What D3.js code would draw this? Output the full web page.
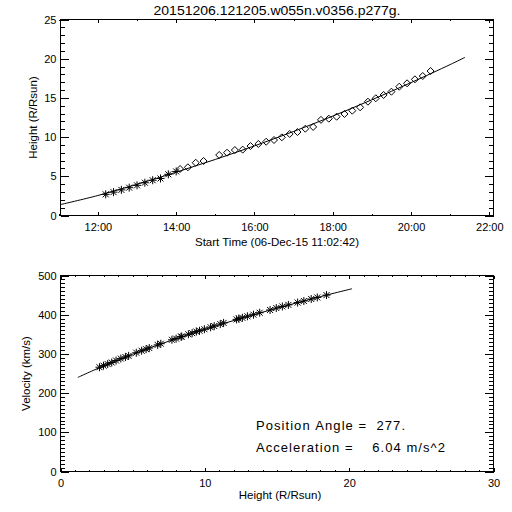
<!DOCTYPE html>
<html><head><meta charset="utf-8">
<script src="https://cdn.jsdelivr.net/npm/d3@7"></script>
<style>
html,body{margin:0;padding:0;background:#fff;}
svg text{font-family:"Liberation Sans",Arial,sans-serif;fill:#000;}
</style></head>
<body>
<svg id="c" width="512" height="512"></svg>
<script>
// ---------- data ----------
const titleText = "20151206.121205.w055n.v0356.p277g.";
const startTime = "11:02:42";
const xTitleTop = "Start Time (06-Dec-15 11:02:42)";
const yTitleTop = "Height (R/Rsun)";
const xTitleBottom = "Height (R/Rsun)";
const yTitleBottom = "Velocity (km/s)";
const annotPA = "Position Angle =  277.";
const annotAcc = "Acceleration =    6.04 m/s^2";

// C2 points (asterisks)
const starTimes = ["12:12","12:24","12:36","12:48","13:00","13:12","13:24","13:36","13:48","14:00"];
const starHeights = [2.70,2.98,3.27,3.55,3.85,4.18,4.50,4.72,5.25,5.62];
// C3 points (diamonds)
const diamondTimes = ["14:06","14:18","14:30","14:42","15:06","15:18","15:30","15:42","15:54","16:06",
  "16:18","16:30","16:42","16:54","17:06","17:18","17:30","17:42","17:54","18:06","18:18","18:30",
  "18:42","18:54","19:06","19:18","19:30","19:42","19:54","20:06","20:18","20:30"];
const diamondHeights = [5.93,6.15,6.73,6.95,7.72,8.01,8.35,8.40,8.86,9.12,
  9.41,9.63,9.97,10.40,10.65,11.07,11.30,12.20,12.35,12.60,12.95,13.37,
  13.80,14.52,14.95,15.37,15.79,16.43,16.86,17.37,17.79,18.43];
// fitted height-time curve
const fitTimes = [11.05,12,13,14,15,16,17,18,19,20,21,21.38];
const fitHeights = [1.40,2.55,3.98,5.52,7.15,8.88,10.72,12.68,14.76,16.95,19.25,20.17];

// velocity panel
const velHeights = [2.70,2.98,3.27,3.55,3.85,4.18,4.50,4.72,5.25,5.62,
  5.93,6.15,6.73,6.95,7.72,8.01,8.35,8.40,8.86,9.12,9.41,9.63,9.97,10.40,10.65,11.07,11.30,
  12.20,12.35,12.60,12.95,13.37,13.80,14.52,14.95,15.37,15.79,16.43,16.86,17.37,17.79,18.43];
const velValues = [266,270,274,278,283,288,292,295,303,308,
  312,315,323,326,336,339,344,344,350,353,357,359,363,368,371,376,379,
  388,390,392,396,400,405,412,417,421,425,431,435,440,444,450];
const velFitHeights = [1.2,3,5,7,9,11,13,15,17,19,20.2];
const velFitValues = [240,269.7,299.2,326.1,351.0,374.2,396.0,416.7,436.4,455.3,466.2];

// axes
const timeTicks = [12,14,16,18,20,22];
const timeMinor = [11,13,15,17,19,21];
const hTicks = [0,5,10,15,20,25];
const vTicks = [0,100,200,300,400,500];
const xhTicks = [0,10,20,30];

// ---------- helpers ----------
const toHours = s => { const p = s.split(":").map(Number); return p[0] + p[1]/60 + (p[2]||0)/3600; };
const fmtTime = h => String(Math.floor(h)).padStart(2,"0") + ":00";
const keepSpaces = s => s.replace(/ /g, "\u00a0");

const svg = d3.select("#c");
const L = 60.5, R = 493.5;
const top1 = 19.5, bot1 = 215.5, top2 = 275.5, bot2 = 471.5;

const t0 = toHours(startTime);
const xT = d3.scaleLinear().domain([t0, t0 + (R-L)/39.14]).range([L,R]);
const yH = d3.scaleLinear().domain([0,25]).range([bot1, top1]);
const xH = d3.scaleLinear().domain([0,30]).range([L,R]);
const yV = d3.scaleLinear().domain([0,500]).range([bot2, top2]);

function styleAxis(g, size){
  g.select(".domain").remove();
  g.selectAll("line").attr("stroke","#000").attr("shape-rendering","crispEdges");
  g.selectAll("text").attr("font-size", size).attr("font-family",'"Liberation Sans",Arial,sans-serif').attr("fill","#000");
}

function panel(x, y, top, bot, xMajor, xMinor, xFmt, yMajor, yMinor, xPad){
  svg.append("rect").attr("x",L).attr("y",top).attr("width",R-L).attr("height",bot-top)
    .attr("fill","none").attr("stroke","#000").attr("shape-rendering","crispEdges");
  const yl = 0.02*(R-L), xl = 0.02*(bot-top);
  svg.append("g").attr("transform",`translate(0,${bot})`)
    .call(d3.axisBottom(x).tickValues(xMajor).tickSizeInner(-xl).tickSizeOuter(0).tickPadding(xPad).tickFormat(xFmt))
    .call(g=>styleAxis(g,"11px"));
  svg.append("g").attr("transform",`translate(0,${bot})`)
    .call(d3.axisBottom(x).tickValues(xMinor).tickSizeInner(-xl/2).tickSizeOuter(0).tickFormat(""))
    .call(g=>styleAxis(g,"11px"));
  svg.append("g").attr("transform",`translate(0,${top})`)
    .call(d3.axisTop(x).tickValues(xMajor).tickSizeInner(-xl).tickSizeOuter(0).tickFormat(""))
    .call(g=>styleAxis(g,"11px"));
  svg.append("g").attr("transform",`translate(0,${top})`)
    .call(d3.axisTop(x).tickValues(xMinor).tickSizeInner(-xl/2).tickSizeOuter(0).tickFormat(""))
    .call(g=>styleAxis(g,"11px"));
  svg.append("g").attr("transform",`translate(${L},0)`)
    .call(d3.axisLeft(y).tickValues(yMajor).tickSizeInner(-yl).tickSizeOuter(0).tickPadding(4).tickFormat(d3.format("d")))
    .call(g=>styleAxis(g,"11px"));
  svg.append("g").attr("transform",`translate(${L},0)`)
    .call(d3.axisLeft(y).tickValues(yMinor).tickSizeInner(-yl/2).tickSizeOuter(0).tickFormat(""))
    .call(g=>styleAxis(g,"11px"));
  svg.append("g").attr("transform",`translate(${R},0)`)
    .call(d3.axisRight(y).tickValues(yMajor).tickSizeInner(-yl).tickSizeOuter(0).tickFormat(""))
    .call(g=>styleAxis(g,"11px"));
  svg.append("g").attr("transform",`translate(${R},0)`)
    .call(d3.axisRight(y).tickValues(yMinor).tickSizeInner(-yl/2).tickSizeOuter(0).tickFormat(""))
    .call(g=>styleAxis(g,"11px"));
}

const starPath = "M-4,0H4M0,-4V4M-3,-3L3,3M-3,3L3,-3";
const diamondPath = "M0,-3.5L3.5,0L0,3.5L-3.5,0Z";

// ---------- title ----------
svg.append("text").attr("x",(L+R)/2).attr("y",15).attr("text-anchor","middle")
  .attr("font-size","13px").attr("textLength",247).attr("lengthAdjust","spacingAndGlyphs").text(titleText);

// ---------- top panel ----------
const hMinor = d3.range(0,26).filter(v=>v%5!==0);
panel(xT, yH, top1, bot1, timeTicks, timeMinor, fmtTime, hTicks, hMinor, 7.5);

svg.append("path").datum(fitTimes.map((t,i)=>[t,fitHeights[i]]))
  .attr("fill","none").attr("stroke","#000").attr("stroke-width",1)
  .attr("d", d3.line().x(d=>xT(d[0])).y(d=>yH(d[1])).curve(d3.curveCatmullRom));

svg.append("g").selectAll("path").data(starTimes.map((t,i)=>[toHours(t),starHeights[i]]))
  .join("path").attr("d",starPath).attr("fill","none").attr("stroke","#000")
  .attr("transform",d=>`translate(${xT(d[0])},${yH(d[1])})`);
svg.append("g").selectAll("path").data(diamondTimes.map((t,i)=>[toHours(t),diamondHeights[i]]))
  .join("path").attr("d",diamondPath).attr("fill","none").attr("stroke","#000")
  .attr("transform",d=>`translate(${xT(d[0])},${yH(d[1])})`);

svg.append("text").attr("x",(L+R)/2).attr("y",246).attr("text-anchor","middle").attr("font-size","11.5px").text(xTitleTop);
svg.append("text").attr("transform",`translate(37,${(top1+bot1)/2}) rotate(-90)`).attr("text-anchor","middle").attr("font-size","11.5px").text(yTitleTop);

// ---------- bottom panel ----------
const vMinor = d3.range(0,501,10).filter(v=>v%100!==0);
const xhMinor = d3.range(0,31).filter(v=>v%10!==0);
panel(xH, yV, top2, bot2, xhTicks, xhMinor, d3.format("d"), vTicks, vMinor, 7.5);

svg.append("path").datum(velFitHeights.map((h,i)=>[h,velFitValues[i]]))
  .attr("fill","none").attr("stroke","#000").attr("stroke-width",1)
  .attr("d", d3.line().x(d=>xH(d[0])).y(d=>yV(d[1])).curve(d3.curveCatmullRom));

svg.append("g").selectAll("path").data(velHeights.map((h,i)=>[h,velValues[i]]))
  .join("path").attr("d",starPath).attr("fill","none").attr("stroke","#000")
  .attr("transform",d=>`translate(${xH(d[0])},${yV(d[1])})`);

svg.append("text").attr("x",(L+R)/2+3).attr("y",499).attr("text-anchor","middle").attr("font-size","11.5px").text(xTitleBottom);
svg.append("text").attr("transform",`translate(30,${(top2+bot2)/2}) rotate(-90)`).attr("text-anchor","middle").attr("font-size","11.5px").text(yTitleBottom);

svg.append("text").attr("x",256).attr("y",430).attr("font-size","13px")
  .attr("textLength",149).attr("lengthAdjust","spacing").text(keepSpaces(annotPA));
svg.append("text").attr("x",256).attr("y",452).attr("font-size","13px")
  .attr("textLength",189).attr("lengthAdjust","spacing").text(keepSpaces(annotAcc));
</script>
</body></html>
